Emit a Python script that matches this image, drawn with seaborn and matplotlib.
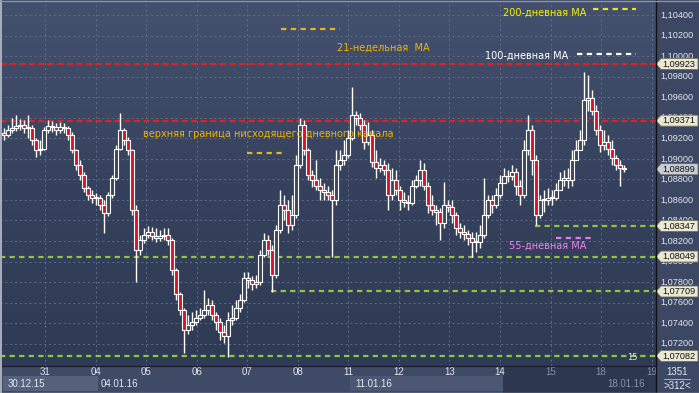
import numpy as np
import pandas as pd
import seaborn as sns
import matplotlib
matplotlib.use("Agg")
import matplotlib.pyplot as plt
import matplotlib.transforms as mtransforms
from matplotlib.colors import LinearSegmentedColormap
from matplotlib.lines import Line2D
from matplotlib.patches import Rectangle, Polygon

sns.set_theme(style="dark")
plt.rcParams["font.family"] = ["DejaVu Sans"]
NUMFONT = ["Liberation Sans", "DejaVu Sans"]

# ---------------- data (EUR/USD candles) ----------------
first_open = 1.0925
closes = [1.0923, 1.0928, 1.0930, 1.0932, 1.0933, 1.0930, 1.0930, 1.0918, 1.0909, 1.0910,
          1.0928, 1.0932, 1.0931, 1.0928, 1.0931, 1.0930, 1.0923, 1.0909, 1.0894, 1.0884,
          1.0872, 1.0865, 1.0862, 1.0862, 1.0855, 1.0847, 1.0865, 1.0881, 1.0910, 1.0928,
          1.0918, 1.0909, 1.0850, 1.0811, 1.0821, 1.0826, 1.0829, 1.0825, 1.0823, 1.0825,
          1.0826, 1.0821, 1.0792, 1.0768, 1.0753, 1.0733, 1.0738, 1.0741, 1.0745, 1.0748,
          1.0753, 1.0758, 1.0748, 1.0741, 1.0731, 1.0728, 1.0743, 1.0745, 1.0755, 1.0763,
          1.0784, 1.0782, 1.0778, 1.0780, 1.0806, 1.0821, 1.0811, 1.0787, 1.0831, 1.0855,
          1.0850, 1.0836, 1.0845, 1.0894, 1.0933, 1.0909, 1.0884, 1.0879, 1.0874, 1.0870,
          1.0868, 1.0865, 1.0860, 1.0894, 1.0899, 1.0904, 1.0920, 1.0943, 1.0940, 1.0933,
          1.0916, 1.0923, 1.0897, 1.0891, 1.0894, 1.0889, 1.0865, 1.0879, 1.0870, 1.0860,
          1.0858, 1.0857, 1.0874, 1.0879, 1.0889, 1.0874, 1.0855, 1.0850, 1.0848, 1.0838,
          1.0855, 1.0853, 1.0845, 1.0833, 1.0829, 1.0827, 1.0823, 1.0819, 1.0819, 1.0826,
          1.0845, 1.0860, 1.0855, 1.0865, 1.0876, 1.0883, 1.0883, 1.0887, 1.0874, 1.0865,
          1.0909, 1.0928, 1.0899, 1.0845, 1.0860, 1.0860, 1.0862, 1.0862, 1.0870, 1.0879,
          1.0881, 1.0879, 1.0899, 1.0909, 1.0918, 1.0957, 1.0959, 1.0947, 1.0928, 1.0913,
          1.0916, 1.0910, 1.0901, 1.0894, 1.0891, 1.0890]
highs = [1.0930, 1.0933, 1.0940, 1.0943, 1.0939, 1.0938, 1.0943, 1.0933, 1.0920, 1.0918,
         1.0931, 1.0938, 1.0937, 1.0935, 1.0936, 1.0935, 1.0932, 1.0926, 1.0910, 1.0899,
         1.0887, 1.0874, 1.0870, 1.0867, 1.0865, 1.0860, 1.0868, 1.0884, 1.0913, 1.0945,
         1.0930, 1.0921, 1.0910, 1.0855, 1.0826, 1.0833, 1.0835, 1.0834, 1.0833, 1.0831,
         1.0833, 1.0833, 1.0823, 1.0794, 1.0770, 1.0755, 1.0748, 1.0751, 1.0753, 1.0755,
         1.0772, 1.0765, 1.0763, 1.0751, 1.0745, 1.0738, 1.0751, 1.0758, 1.0763, 1.0768,
         1.0790, 1.0790, 1.0786, 1.0787, 1.0811, 1.0828, 1.0826, 1.0816, 1.0836, 1.0870,
         1.0865, 1.0860, 1.0865, 1.0904, 1.0940, 1.0938, 1.0911, 1.0889, 1.0899, 1.0881,
         1.0876, 1.0874, 1.0870, 1.0909, 1.0909, 1.0918, 1.0928, 1.0970, 1.0947, 1.0945,
         1.0938, 1.0936, 1.0928, 1.0909, 1.0901, 1.0899, 1.0896, 1.0891, 1.0889, 1.0874,
         1.0868, 1.0865, 1.0879, 1.0884, 1.0899, 1.0896, 1.0877, 1.0865, 1.0855, 1.0852,
         1.0877, 1.0860, 1.0860, 1.0848, 1.0838, 1.0836, 1.0831, 1.0829, 1.0829, 1.0836,
         1.0881, 1.0865, 1.0865, 1.0872, 1.0884, 1.0891, 1.0889, 1.0894, 1.0891, 1.0879,
         1.0918, 1.0943, 1.0933, 1.0904, 1.0865, 1.0870, 1.0872, 1.0870, 1.0876, 1.0887,
         1.0889, 1.0891, 1.0909, 1.0918, 1.0928, 1.0984, 1.0982, 1.0967, 1.0952, 1.0933,
         1.0928, 1.0923, 1.0918, 1.0904, 1.0899, 1.0894]
lows = [1.0918, 1.0921, 1.0925, 1.0927, 1.0928, 1.0925, 1.0920, 1.0913, 1.0902, 1.0904,
        1.0909, 1.0925, 1.0926, 1.0923, 1.0925, 1.0925, 1.0918, 1.0906, 1.0889, 1.0879,
        1.0868, 1.0860, 1.0857, 1.0855, 1.0850, 1.0828, 1.0844, 1.0862, 1.0879, 1.0909,
        1.0913, 1.0904, 1.0845, 1.0780, 1.0806, 1.0818, 1.0823, 1.0821, 1.0819, 1.0820,
        1.0821, 1.0816, 1.0787, 1.0763, 1.0748, 1.0711, 1.0730, 1.0733, 1.0738, 1.0743,
        1.0745, 1.0748, 1.0743, 1.0733, 1.0724, 1.0721, 1.0707, 1.0738, 1.0743, 1.0751,
        1.0761, 1.0774, 1.0772, 1.0774, 1.0777, 1.0804, 1.0806, 1.0770, 1.0784, 1.0828,
        1.0840, 1.0828, 1.0831, 1.0842, 1.0891, 1.0904, 1.0879, 1.0873, 1.0870, 1.0860,
        1.0860, 1.0860, 1.0804, 1.0855, 1.0889, 1.0894, 1.0901, 1.0918, 1.0933, 1.0928,
        1.0910, 1.0913, 1.0892, 1.0881, 1.0887, 1.0884, 1.0850, 1.0860, 1.0865, 1.0850,
        1.0853, 1.0850, 1.0855, 1.0872, 1.0874, 1.0870, 1.0847, 1.0845, 1.0836, 1.0821,
        1.0833, 1.0848, 1.0838, 1.0826, 1.0823, 1.0821, 1.0816, 1.0804, 1.0809, 1.0813,
        1.0823, 1.0842, 1.0847, 1.0852, 1.0862, 1.0877, 1.0877, 1.0879, 1.0865, 1.0855,
        1.0862, 1.0904, 1.0884, 1.0836, 1.0842, 1.0848, 1.0855, 1.0855, 1.0860, 1.0872,
        1.0874, 1.0872, 1.0874, 1.0899, 1.0909, 1.0913, 1.0947, 1.0943, 1.0923, 1.0907,
        1.0909, 1.0904, 1.0894, 1.0889, 1.0874, 1.0887]

levels = [1.09923, 1.09371, 1.08347, 1.08049, 1.07709, 1.07082]
level_kind = ["red", "red", "green", "green", "green", "green"]
level_start_bar = [None, None, 133, None, 67, None]
last_price = 1.08899

price_ticks = [1.072, 1.074, 1.076, 1.078, 1.080, 1.082, 1.084, 1.086, 1.088,
               1.090, 1.092, 1.094, 1.096, 1.098, 1.100, 1.102, 1.104]
day_labels = ["31", "04", "05", "06", "07", "08", "11", "12", "13", "14", "15", "18", "19"]
week_labels = ["30.12.15", "04.01.16", "11.01.16", "18.01.16"]
bars_total = "1351"
bars_window = ">312<"

# ---------------- frame ----------------
opens = [first_open] + closes[:-1]
df = pd.DataFrame({"open": opens, "high": highs, "low": lows, "close": closes})
df["bar"] = np.arange(len(df))
df["high"] = df[["high", "open", "close"]].max(axis=1)
df["low"] = df[["low", "open", "close"]].min(axis=1)

W, H = 699, 393
fig = plt.figure(figsize=(W / 100, H / 100), dpi=100)
fig.patch.set_facecolor("#3b4763")

def fx(px):
    return px / W

def fy(py):
    return 1 - py / H

PLOT_R = 656
PLOT_B = 366
ax = fig.add_axes([0, fy(PLOT_B), fx(PLOT_R), (PLOT_B - 2) / H])
XMIN, XMAX = -1, 163
YMIN, YMAX = 1.06984, 1.10526
ax.set_xlim(XMIN, XMAX)
ax.set_ylim(YMIN, YMAX)
ax.set_axis_off()

bg = LinearSegmentedColormap.from_list("bg", ["#44516e", "#36425d", "#2f3a54"])
ax.imshow(np.linspace(0, 1, 256)[:, None], cmap=bg, aspect="auto",
          extent=[XMIN, XMAX, YMIN, YMAX], zorder=0, origin="upper")

# grid
grid_kw = dict(color="#5f6d8a", lw=0.7, linestyle=(0, (2, 3)), zorder=1)
for t in price_ticks:
    ax.axhline(t, **grid_kw)
day_first, day_step = 10.25, 12.64
day_pos = [day_first + day_step * k for k in range(len(day_labels))]
for d in day_pos:
    ax.axvline(d, **grid_kw)

# level lines
col = {"red": "#e3201d", "green": "#8ec63f"}
dash = {"red": (0, (2.8, 1.5)), "green": (0, (2.4, 1.9))}
for lv, kind, st in zip(levels, level_kind, level_start_bar):
    x0 = XMIN if st is None else st - 0.3
    ax.hlines(lv, x0, XMAX, colors=col[kind], linestyles=[dash[kind]], lw=1.6, zorder=2)

# candles
ax.vlines(df["bar"], df["low"], df["high"], color="white", lw=1.0, zorder=3)
up = df["close"] >= df["open"]
for sub, fc in ((df[up], "#3a4662"), (df[~up], "#e0102a")):
    h = (sub["close"] - sub["open"]).abs().clip(lower=0.00006)
    b = sub[["open", "close"]].min(axis=1)
    ax.bar(sub["bar"], h, bottom=b, width=0.8, color=fc, edgecolor="white",
           linewidth=0.8, zorder=4)

# ---------------- right price scale ----------------
yt = ax.get_yaxis_transform()
def axx(px):
    return 1 + px / PLOT_R
for t in price_ticks:
    ax.text(axx(4), t, f"{t:.5f}".replace(".", ","), transform=yt, color="#e3e7f0",
            fontsize=6.6, family=NUMFONT, va="center", ha="left", clip_on=False, zorder=6)

tag_h = 11 * (YMAX - YMIN) / (PLOT_B - 2)
def price_tag(p, fc):
    pts = [(axx(0), p), (axx(5), p + tag_h / 2), (axx(42), p + tag_h / 2),
           (axx(42), p - tag_h / 2), (axx(5), p - tag_h / 2)]
    ax.add_patch(Polygon(pts, closed=True, transform=yt, facecolor=fc,
                         edgecolor="#707060", lw=0.6, clip_on=False, zorder=7))
    ax.text(axx(6), p, f"{p:.5f}".replace(".", ","), transform=yt, color="#111111",
            fontsize=6.6, family=NUMFONT, va="center", ha="left", clip_on=False, zorder=8)

for lv in levels:
    price_tag(lv, "#ebe8d2")
price_tag(last_price, "#c8cdd9")

# ---------------- annotations ----------------
def dashed(x0, x1, y, c):
    fig.add_artist(Line2D([fx(x0), fx(x1)], [fy(y), fy(y)], color=c, lw=1.6,
                          linestyle=(0, (2.4, 2.0)), transform=fig.transFigure))

def label(x, y, s, c, fs=7.0):
    fig.text(fx(x), fy(y), s, color=c, fontsize=fs, va="center", ha="left")

label(503, 13, "200-дневная МА", "#f4f400")
dashed(593, 636, 9, "#f0e21e")
dashed(281, 340, 29, "#e8b21e")
label(337, 48, "21-недельная  МА", "#f2b400")
label(485, 56, "100-дневная МА", "#ffffff")
dashed(577, 636, 54, "#ffffff")
label(143, 134, "верхняя граница нисходящего дневного канала", "#f2b400")
dashed(247, 282, 153, "#e8b21e")
dashed(556, 592, 238, "#e27ce2")
label(509, 246, "55-дневная МА", "#f282f2")
label(627, 357, "15", "#e0e4ee", fs=6)

# ---------------- bottom time scale ----------------
def frect(x0, y0, x1, y1, c, z=1):
    fig.add_artist(Rectangle((fx(x0), fy(y1)), fx(x1) - fx(x0), fy(y0) - fy(y1),
                             transform=fig.transFigure, facecolor=c, edgecolor="none",
                             zorder=z))

frect(0, PLOT_B, PLOT_R, H, "#3f4a66")
frect(503, PLOT_B, PLOT_R, H, "#2d3750")
frect(3, 376, 98, 391, "#56627c", 2)
frect(350, 376, 503, 391, "#4c5873", 2)
frect(PLOT_R, PLOT_B, W, H, "#3c4864")

bt = mtransforms.blended_transform_factory(ax.transData, fig.transFigure)
for k, (d, s) in enumerate(zip(day_pos, day_labels)):
    c = "#e3e7f0" if k < 10 else "#8592aa"
    fig.text(d, fy(372), s, transform=bt, color=c, fontsize=7, family=NUMFONT,
             ha="center", va="center", zorder=5)
for x, s, c in zip([8, 101, 355, 607], week_labels,
                   ["#e3e7f0", "#e3e7f0", "#e3e7f0", "#8592aa"]):
    fig.text(fx(x), fy(384), s, color=c, fontsize=7, family=NUMFONT,
             ha="left", va="center", zorder=5)

fig.text(fx(677), fy(372), bars_total, color="#e3e7f0", fontsize=7, family=NUMFONT,
         ha="center", va="center")
fig.text(fx(677), fy(386), bars_window, color="#e3e7f0", fontsize=7, family=NUMFONT,
         ha="center", va="center")
fig.add_artist(Line2D([fx(664), fx(690)], [fy(379), fy(379)], color="#c0c6d4", lw=0.6,
                      transform=fig.transFigure))

# frame lines
fig.add_artist(Line2D([fx(PLOT_R), fx(PLOT_R)], [0, 1], color="#111111", lw=1.0,
                      transform=fig.transFigure, zorder=9))
fig.add_artist(Line2D([0, fx(PLOT_R)], [fy(PLOT_B), fy(PLOT_B)], color="#1a2030", lw=1.0,
                      transform=fig.transFigure, zorder=9))
fig.add_artist(Line2D([fx(0.7), fx(0.7)], [0, 1], color="#a8b0be", lw=1.4,
                      transform=fig.transFigure, zorder=9))
fig.add_artist(Line2D([0, 1], [fy(392.5), fy(392.5)], color="#a8b0be", lw=1.0,
                      transform=fig.transFigure, zorder=9))
fig.add_artist(Line2D([0, 1], [fy(0.5), fy(0.5)], color="#8c95a8", lw=1.0,
                      transform=fig.transFigure, zorder=9))

fig.savefig("out.png", dpi=100, facecolor=fig.get_facecolor())
